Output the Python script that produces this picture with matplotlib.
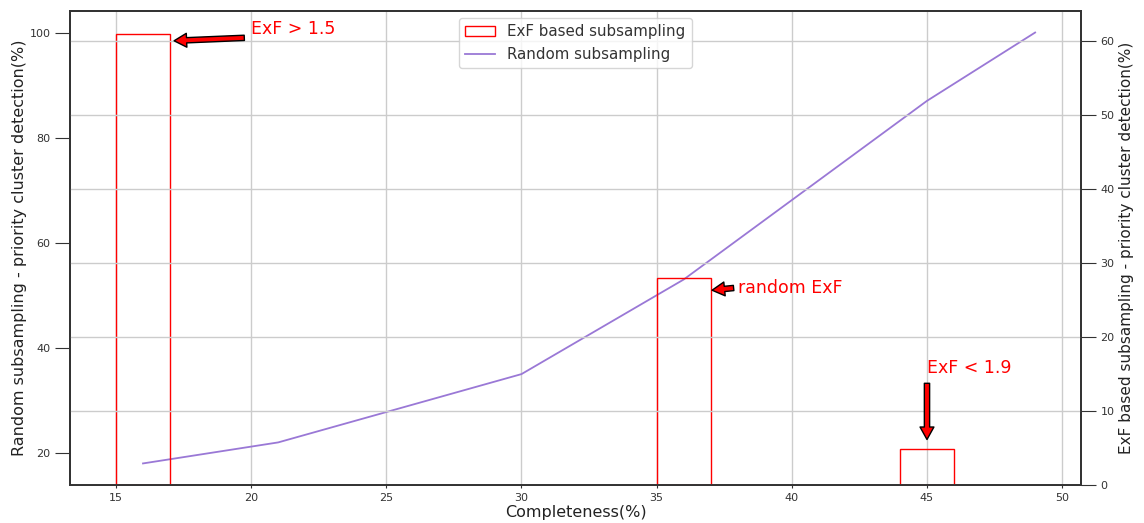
import matplotlib
matplotlib.use("Agg")
import matplotlib.pyplot as plt

# Random subsampling curve (left axis)
completeness = [16, 21, 30, 36, 45, 49]
random_detection = [18, 22, 35, 53, 87, 100]

# ExF based subsampling bars (right axis)
exf_centers = [16, 36, 45]
exf_detection = [61, 28, 4.8]
bar_width = 2

fig = plt.figure(figsize=(11.44, 5.23), dpi=100)
ax = fig.add_axes([0.0612, 0.0727, 0.8838, 0.9063])
ax2 = ax.twinx()

line, = ax.plot(completeness, random_detection, color='#9a78d6', lw=1.3,
                label='Random subsampling')
bars = ax2.bar(exf_centers, exf_detection, width=bar_width, fill=False,
               edgecolor='red', lw=1.0, label='ExF based subsampling')

grid_kw = dict(color='#cccccc', lw=1.0)
ax.grid(True, axis='x', **grid_kw)
ax2.grid(True, axis='y', **grid_kw)

ax.set_xlabel('Completeness(%)', fontsize=11.5, labelpad=2, color='#222222')
ax.set_ylabel('Random subsampling - priority cluster detection(%)', fontsize=11.5,
              labelpad=2, color='#222222')
ax2.set_ylabel('ExF based subsampling - priority cluster detection(%)', fontsize=11,
               labelpad=3, color='#222222')

ax.tick_params(axis='x', labelsize=8, length=2.5, pad=3, colors='#333333')
ax.tick_params(axis='y', labelsize=8, length=11, pad=3, colors='#333333')
ax2.tick_params(axis='y', labelsize=8, length=11, pad=3, colors='#333333')
for a in (ax, ax2):
    for s in a.spines.values():
        s.set_linewidth(1.3)
        s.set_color('#333333')

arrow = dict(facecolor='red', edgecolor='black', shrink=0.05, width=3.8,
             headwidth=10, headlength=9)
ax2.annotate('ExF > 1.5', xy=(17, 60), xytext=(20, 61), color='red', fontsize=12.5,
             arrowprops=arrow)
ax2.annotate('random ExF', xy=(37, 26.3), xytext=(38, 26), color='red', fontsize=12.5,
             arrowprops=arrow)
ax2.annotate('ExF < 1.9', xy=(45, 5.7), xytext=(45, 15.1), color='red', fontsize=12.5,
             arrowprops=arrow)

leg = ax2.legend([bars, line], ['ExF based subsampling', 'Random subsampling'],
                 loc='upper center', fontsize=10.8)
for t in leg.get_texts():
    t.set_color('#333333')

fig.savefig('out.png', dpi=100)
